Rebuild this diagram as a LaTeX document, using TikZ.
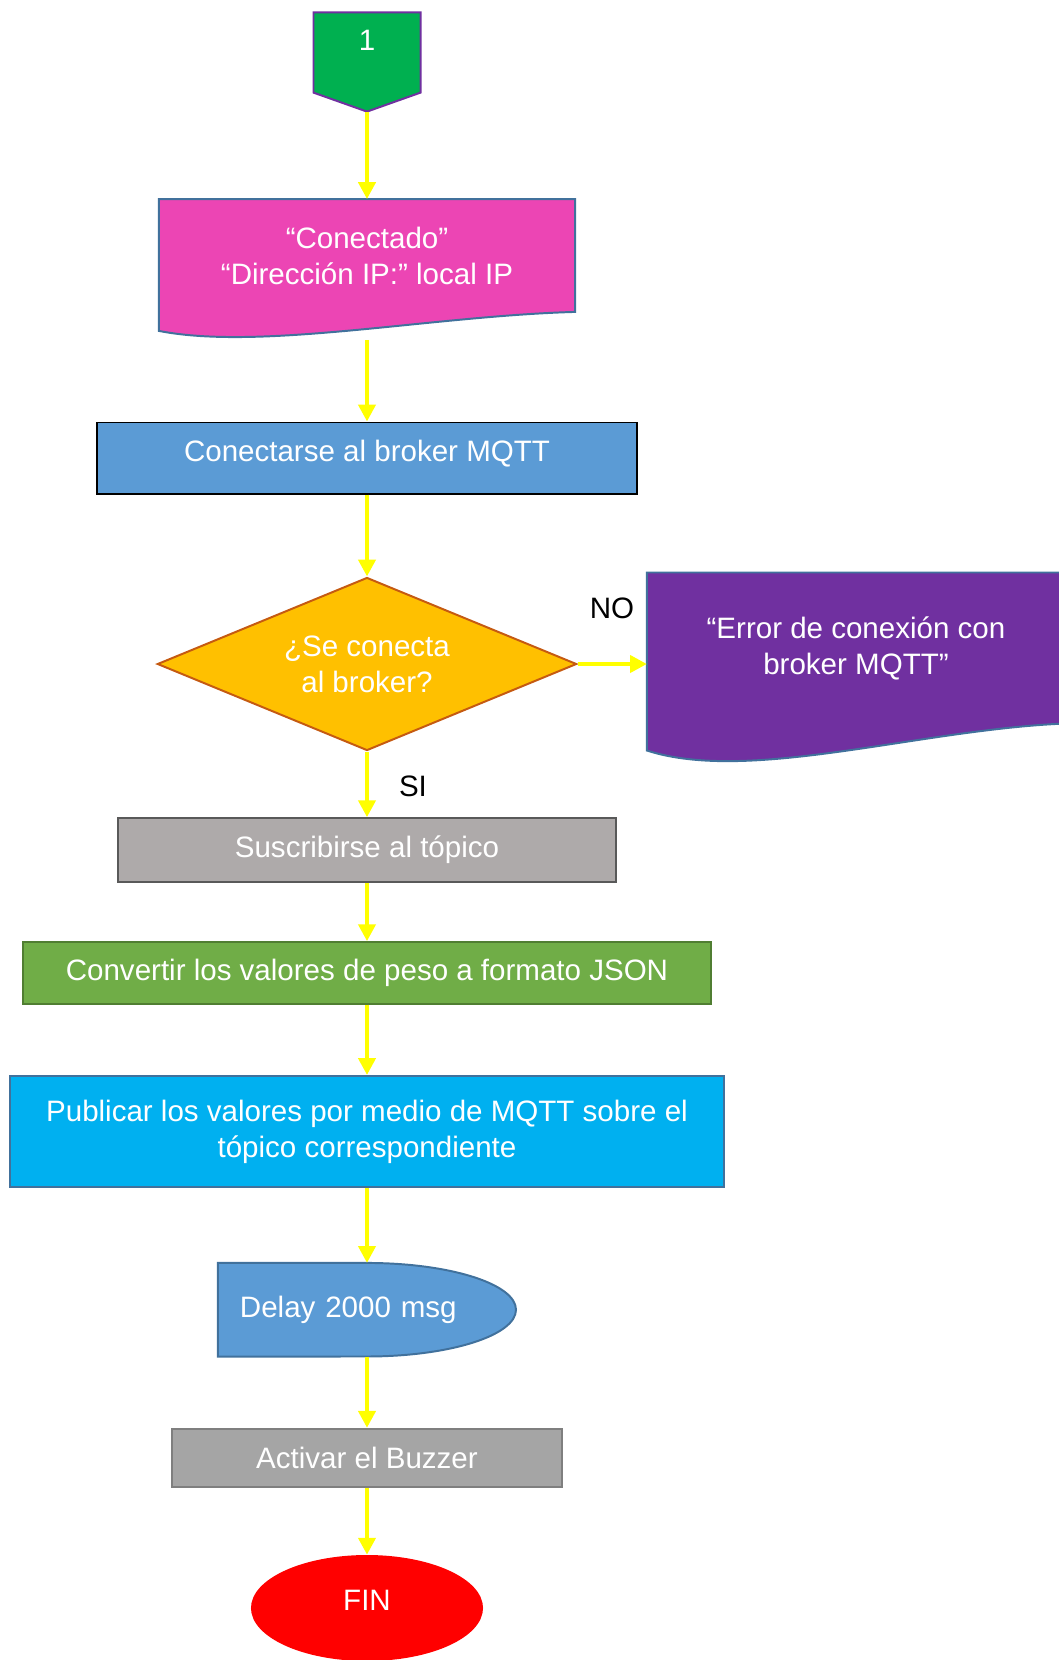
\documentclass[tikz,border=0pt]{standalone}
\usepackage{fontspec}
\setmainfont{Liberation Sans}
\usetikzlibrary{shapes.geometric,arrows.meta,calc}
\pgfdeclarelayer{bg}
\pgfsetlayers{bg,main}
\definecolor{conngreen}{HTML}{00B050}
\definecolor{connpurple}{HTML}{7030A0}
\definecolor{docpink}{HTML}{EC45B4}
\definecolor{edgeblue}{HTML}{41719C}
\definecolor{stepblue}{HTML}{5B9BD5}
\definecolor{decyellow}{HTML}{FFC000}
\definecolor{decbrown}{HTML}{C55A11}
\definecolor{errpurple}{HTML}{7030A0}
\definecolor{subsgray}{HTML}{AEAAAA}
\definecolor{subsedge}{HTML}{595959}
\definecolor{jsongreen}{HTML}{70AD47}
\definecolor{jsonedge}{HTML}{507E32}
\definecolor{pubcyan}{HTML}{00B0F0}
\definecolor{buzzgray}{HTML}{A5A5A5}
\definecolor{buzzedge}{HTML}{7F7F7F}
\definecolor{flowyellow}{HTML}{FFFF00}
\begin{document}
\begin{tikzpicture}[x=0.025cm, y=-0.025cm,
  txt/.style={font=\fontsize{21pt}{25.6pt}\selectfont, text=white, align=center, inner sep=0pt},
  box/.style={txt, draw, line width=1.4pt},
  flow/.style={draw=flowyellow, line width=3pt, -{Triangle[length=12pt,width=12pt]}},
  lbl/.style={font=\fontsize{21pt}{25.6pt}\selectfont, inner sep=0pt}]
\useasboundingbox (0,0) rectangle (1059,1660);
\node[txt, minimum width=2.675cm, minimum height=2.48cm, text height=0.625cm, text depth=1.21cm, outer sep=0pt] (conn) at (367,62){1};
\node[txt, minimum width=10.4cm, minimum height=2.82cm, outer sep=0pt] (msgok) at (367,255.5){“Conectado”\\“Dirección IP:” local IP};
\node[box, fill=stepblue, draw=black, minimum width=13.475cm, minimum height=1.775cm, text height=0.6cm, text depth=0.45cm] (conbroker) at (367,458){Conectarse al broker MQTT};
\node[box, diamond, aspect=2.42, fill=decyellow, draw=decbrown, minimum width=10.48cm, minimum height=4.325cm] (dec) at (367,664){¿Se conecta\\al broker?};
\node[txt, minimum width=10.45cm, minimum height=3.775cm, outer sep=0pt] (err) at (856,648){“Error de conexión con\\broker MQTT”};
\node[lbl] (no) at (612,608){NO};
\node[lbl] (si) at (413,786){SI};
\node[box, fill=subsgray, draw=subsedge, minimum width=12.44cm, minimum height=1.59cm] (subs) at (367,850){Suscribirse al tópico};
\node[box, fill=jsongreen, draw=jsonedge, minimum width=17.18cm, minimum height=1.54cm] (json) at (367,973){Convertir los valores de peso a formato JSON};
\node[box, fill=pubcyan, draw=edgeblue, minimum width=17.85cm, minimum height=2.775cm] (pub) at (367,1131.5){Publicar los valores por medio de MQTT sobre el\\tópico correspondiente};
\node[txt, align=left, text width=6.35cm, inner xsep=0.55cm, minimum height=2.34cm, outer sep=0pt] (delay) at (367,1309.75){Delay 2000 msg};
\node[box, fill=buzzgray, draw=buzzedge, minimum width=9.74cm, minimum height=1.46cm] (buzz) at (367,1458){Activar el Buzzer};
\node[txt, ellipse, fill=red, minimum width=5.8cm, minimum height=2.65cm, text height=0.4cm, text depth=0.265cm] (fin) at (367,1608){FIN};

\begin{pgfonlayer}{bg}
\draw[fill=conngreen, draw=connpurple, line width=1.4pt] (conn.north west) -- (conn.north east) -- ($(conn.south east)+(0,-19)$) -- (conn.south) -- ($(conn.south west)+(0,-19)$) -- cycle;
\draw[fill=docpink, draw=edgeblue, line width=1.4pt] (msgok.north west) -- (msgok.north east) -- (msgok.south east) .. controls ($(msgok.south west)+(272,4)$) and ($(msgok.south west)+(102,39)$) .. ($(msgok.south west)+(0,19)$) -- cycle;
\draw[fill=errpurple, draw=edgeblue, line width=1.4pt] (err.north west) -- (err.north east) -- (err.south east) .. controls ($(err.south west)+(272,6)$) and ($(err.south west)+(102,60)$) .. ($(err.south west)+(0,27)$) -- cycle;
\draw[fill=stepblue, draw=edgeblue, line width=1.4pt] (delay.north west) -- ($(delay.north west)+(149,0)$) arc[start angle=90, end angle=-90, x radius=3.725cm, y radius=1.169cm] -- (delay.south west) -- cycle;
\end{pgfonlayer}

\draw[flow](conn) -- (msgok);
\draw[flow, shorten <=0.7cm](msgok) -- (conbroker);
\draw[flow](conbroker) -- (dec);
\draw[flow](dec.east) -- (dec.east -| err.west);
\draw[flow](dec) -- (subs);
\draw[flow](subs) -- (json);
\draw[flow](json) -- (pub);
\draw[flow](pub) -- (delay);
\draw[flow](delay) -- (buzz);
\draw[flow](buzz) -- (fin);

\end{tikzpicture}
\end{document}
